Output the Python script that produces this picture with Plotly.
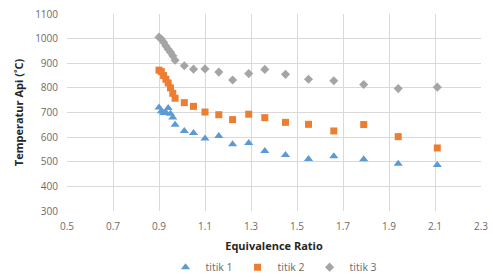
import plotly.graph_objects as go

x_ratio = [0.90, 0.91, 0.92, 0.93, 0.94, 0.95, 0.96, 0.97, 1.01, 1.05, 1.10,
           1.16, 1.22, 1.29, 1.36, 1.45, 1.55, 1.66, 1.79, 1.94, 2.11]
titik1 = [720, 705, 698, 700, 718, 695, 680, 650, 625, 617, 594,
          605, 571, 576, 544, 527, 511, 522, 510, 492, 487]
titik2 = [872, 866, 850, 835, 820, 800, 778, 758, 740, 725, 702,
          691, 671, 693, 679, 660, 652, 625, 651, 602, 556]
titik3 = [1006, 998, 985, 970, 957, 945, 930, 912, 890, 876, 877,
          864, 832, 858, 875, 855, 835, 829, 814, 797, 803]

x_ticks = [0.5, 0.7, 0.9, 1.1, 1.3, 1.5, 1.7, 1.9, 2.1, 2.3]
y_ticks = [300, 400, 500, 600, 700, 800, 900, 1000, 1100]

font_family = "Open Sans, Liberation Sans, sans-serif"

fig = go.Figure()
fig.add_trace(go.Scatter(x=x_ratio, y=titik1, mode="markers", name="titik 1",
                         marker=dict(symbol="triangle-up", size=8, color="#5b9bd5")))
fig.add_trace(go.Scatter(x=x_ratio, y=titik2, mode="markers", name="titik 2",
                         marker=dict(symbol="square", size=7, color="#ed7d31")))
fig.add_trace(go.Scatter(x=x_ratio, y=titik3, mode="markers", name="titik 3",
                         marker=dict(symbol="diamond", size=7, color="#a5a5a5")))

fig.update_layout(
    width=493, height=277,
    margin=dict(l=67, r=12, t=14, b=66, autoexpand=False),
    paper_bgcolor="white", plot_bgcolor="white",
    font=dict(family=font_family, size=10, color="#6b6b6b"),
    showlegend=True,
    legend=dict(orientation="h", x=0.5, xanchor="center", y=-0.285, yanchor="middle",
                font=dict(size=10.5, color="#6b6b6b"),
                itemwidth=30, tracegroupgap=0),
)
fig.update_xaxes(
    range=[0.5, 2.3], tickvals=x_ticks, ticktext=[f"{v:g}" for v in x_ticks],
    showgrid=True, gridcolor="#d9d9d9", gridwidth=1, zeroline=False,
    showline=False, ticks="", ticklabelstandoff=8, automargin=False,
    tickfont=dict(size=10, color="#6b6b6b"),
    title=dict(text="<b>Equivalence Ratio</b>", standoff=10,
               font=dict(size=11, color="#262626")),
)
fig.update_yaxes(
    range=[300, 1100], tickvals=y_ticks,
    showgrid=True, gridcolor="#d9d9d9", gridwidth=1, zeroline=False,
    showline=False, ticks="", ticklabelstandoff=8, automargin=False,
    tickfont=dict(size=10, color="#6b6b6b"),
    title=dict(text="<b>Temperatur Api (˚C)</b>", standoff=9,
               font=dict(size=11, color="#262626")),
)

fig.write_html("out.html", config={"displayModeBar": False})

# remove default page margin so the figure sits at the window's top-left corner
with open("out.html", "r", encoding="utf-8") as f:
    html = f.read()
html = html.replace("<head>", "<head><style>html,body{margin:0;padding:0;overflow:hidden;}</style>", 1)
with open("out.html", "w", encoding="utf-8") as f:
    f.write(html)
